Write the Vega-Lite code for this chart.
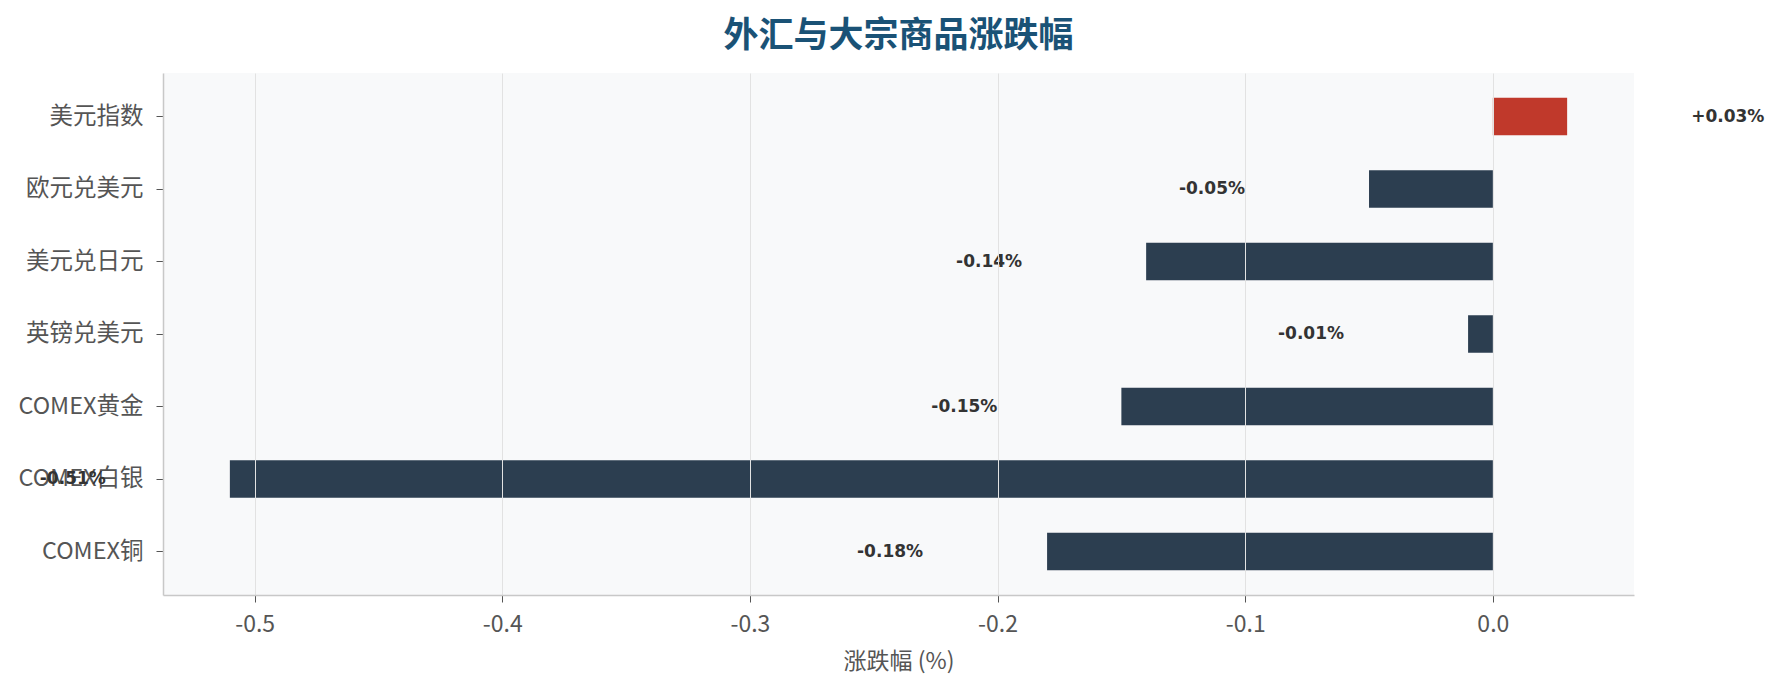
{
  "$schema": "https://vega.github.io/schema/vega-lite/v6.json",
  "autosize": {"type": "none"},
  "padding": {"left": 163, "top": 73, "right": 151, "bottom": 99},
  "width": 1471,
  "height": 522,
  "background": "#ffffff",
  "title": {
    "text": "外汇与大宗商品涨跌幅",
    "font": "Noto Sans CJK SC",
    "fontSize": 35,
    "fontWeight": "bold",
    "color": "#1a5276",
    "anchor": "middle",
    "offset": 19
  },
  "data": {
    "values": [
      {"name": "美元指数", "value": 0.03, "label": "+0.03%"},
      {"name": "欧元兑美元", "value": -0.05, "label": "-0.05%"},
      {"name": "美元兑日元", "value": -0.14, "label": "-0.14%"},
      {"name": "英镑兑美元", "value": -0.01, "label": "-0.01%"},
      {"name": "COMEX黄金", "value": -0.15, "label": "-0.15%"},
      {"name": "COMEX白银", "value": -0.51, "label": "-0.51%"},
      {"name": "COMEX铜", "value": -0.18, "label": "-0.18%"}
    ]
  },
  "encoding": {
    "y": {
      "field": "name",
      "type": "nominal",
      "sort": null,
      "scale": {"paddingInner": 0.48, "paddingOuter": 0.34},
      "axis": {
        "title": null,
        "labelFont": "Noto Sans CJK SC",
        "labelFontSize": 23.5,
        "labelColor": "#555555",
        "labelPadding": 13,
        "tickSize": 7,
        "tickColor": "#555555",
        "domainColor": "#c8c8c8",
        "domainWidth": 1.5,
        "grid": false
      }
    }
  },
  "layer": [
    {
      "mark": {"type": "bar"},
      "encoding": {
        "x": {
          "field": "value",
          "type": "quantitative",
          "scale": {"domain": [-0.537, 0.057], "nice": false, "zero": false},
          "axis": {
            "values": [-0.5, -0.4, -0.3, -0.2, -0.1, 0],
            "labelExpr": "datum.value == 0 ? '0.0' : '-' + format(abs(datum.value), '.1f')",
            "title": "涨跌幅 (%)",
            "titleFont": "Noto Sans CJK SC",
            "titleFontSize": 23,
            "titleFontWeight": "normal",
            "titleColor": "#555555",
            "titlePadding": 14,
            "labelFont": "Noto Sans CJK SC",
            "labelFontSize": 23,
            "labelColor": "#555555",
            "labelPadding": 11,
            "tickSize": 7,
            "tickColor": "#555555",
            "domainColor": "#c8c8c8",
            "domainWidth": 1.5,
            "grid": true,
            "gridColor": "#e2e2e2",
            "gridWidth": 1,
            "zindex": 1
          }
        },
        "color": {
          "condition": {"test": "datum.value > 0", "value": "#c0392b"},
          "value": "#2c3e50"
        }
      }
    },
    {
      "transform": [{"filter": "datum.value > 0"}],
      "mark": {"type": "text", "align": "left", "baseline": "middle", "dx": 124, "font": "DejaVu Sans", "fontWeight": "bold", "fontSize": 17, "color": "#333333"},
      "encoding": {
        "x": {"field": "value", "type": "quantitative"},
        "text": {"field": "label"}
      }
    },
    {
      "transform": [{"filter": "datum.value <= 0"}],
      "mark": {"type": "text", "align": "right", "baseline": "middle", "dx": -124, "font": "DejaVu Sans", "fontWeight": "bold", "fontSize": 17, "color": "#333333"},
      "encoding": {
        "x": {"field": "value", "type": "quantitative"},
        "text": {"field": "label"}
      }
    },
    {
      "mark": {"type": "rule", "color": "#a0a0a0", "strokeWidth": 1.5},
      "encoding": {"x": {"datum": 0}}
    }
  ],
  "config": {
    "view": {"fill": "#f8f9fa", "stroke": null}
  }
}
